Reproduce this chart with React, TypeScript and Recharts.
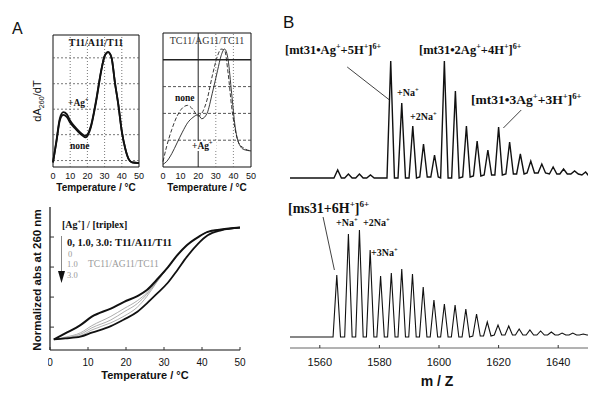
import React from "react";
import { LineChart, Line, XAxis, YAxis, ReferenceLine, ReferenceArea } from "recharts";

const SERIF = '"Liberation Serif", "Times New Roman", serif';
const SANS = '"Liberation Sans", Arial, sans-serif';
const INK = "#111";

// ---- panel A, upper left: dA260/dT of T11/A11/T11 (0..100 = bottom..top of frame)
const dtTempL = [0, 2, 4, 6, 8, 10, 13, 16, 19, 22, 25, 28, 30, 32, 34, 36, 38, 40, 42, 44, 46, 50];
const dtAgL = [3.5, 20, 37, 41.5, 40, 35, 30, 26, 23.6, 31, 50, 73, 84, 87, 83, 64, 47, 27, 14, 6, 3.5, 3];
const dtNoneL = [3.5, 19, 35.5, 39.5, 38, 33.5, 29, 25, 22.5, 30, 49, 72.5, 84, 87, 83, 64, 47, 27, 14, 6, 3.5, 3];
const gridYL = [4.9, 24.5, 43.8, 63.1, 82.7];
const gridXL = [10, 20, 30, 40];

// ---- panel A, upper right: TC11/AG11/TC11
const dtTempR = [0, 2, 5, 8, 11, 14, 17, 20, 22, 25, 28, 31, 33, 35, 37, 39, 41, 43, 46, 50];
const dtNoneR = [4, 15, 28, 38, 44, 46, 43, 38, 40, 50, 68, 83, 88, 87, 70, 45, 28, 18, 14, 12];
const dtAgR = [2, 4, 10, 18, 26, 33, 37, 39, 36, 40, 55, 72, 83, 88, 80, 55, 30, 18, 13, 12];
const gridYR = [20, 40, 60];
const gridYRStrong = [80];
const gridXR = [30, 40];
const gridXRStrong = [20];

// ---- panel A, lower: normalized absorbance at 260 nm
const absTemp = [1, 4, 8, 11, 16, 19.5, 23, 25.5, 28, 31, 33.5, 36, 39, 41.5, 45, 50];
const absUpper = [0.074, 0.116, 0.174, 0.233, 0.29, 0.337, 0.377, 0.419, 0.488, 0.577, 0.663, 0.733, 0.79, 0.826, 0.842, 0.856];
const absLower = [0.074, 0.081, 0.093, 0.121, 0.167, 0.214, 0.267, 0.326, 0.39, 0.47, 0.558, 0.651, 0.744, 0.802, 0.837, 0.856];
const absMid1 = [0.074, 0.09, 0.12, 0.17, 0.235, 0.29, 0.345, 0.4, 0.478, 0.577, 0.663, 0.733, 0.79, 0.826, 0.842, 0.856];
const absMid2 = [0.074, 0.085, 0.11, 0.155, 0.21, 0.267, 0.325, 0.39, 0.475, 0.577, 0.663, 0.733, 0.79, 0.826, 0.842, 0.856];
const absMid3 = [0.074, 0.083, 0.1, 0.14, 0.19, 0.237, 0.3, 0.375, 0.47, 0.577, 0.663, 0.733, 0.79, 0.826, 0.842, 0.856];
const absYTicks = [0.16, 0.37, 0.58, 0.79];
const tempTicks = [0, 10, 20, 30, 40, 50];

// ---- panel B, upper spectrum (mt31 + Ag+): peak centre, apex, background under the peak
const topPeakMz = [1566.0, 1569.6, 1573.3, 1577.0, 1583.8, 1587.5, 1591.2, 1594.8, 1598.5, 1601.8, 1605.5, 1609.2, 1612.8, 1616.4, 1620.0, 1623.7, 1627.3, 1630.8, 1634.5, 1638.3, 1641.8, 1645.5, 1649.2];
const topPeakInt = [8, 4, 4, 3, 117, 75, 52, 34, 23, 117, 87, 52, 37, 28, 51, 36, 24, 17, 14, 11, 9, 7, 6];
const topPeakBase = [0, 0, 0, 0, 0, 0, 0, 1, 1, 0, 0, 1, 2, 3, 3, 4, 4, 5, 5, 4, 4, 4, 3];
const topEndsMz = [1550, 1650];
const topEndsInt = [0, 3];

// ---- panel B, lower spectrum (ms31)
const botPeakMz = [1565.7, 1569.6, 1573.3, 1576.9, 1580.4, 1584.0, 1587.5, 1591.1, 1594.7, 1598.3, 1601.8, 1605.4, 1609.0, 1612.6, 1616.2, 1619.8, 1623.4, 1626.9, 1630.5, 1634.1, 1637.7, 1641.3, 1644.9, 1648.4];
const botPeakInt = [62, 103, 107, 87, 61, 64, 68, 63, 50, 37, 33, 32, 28, 23, 15, 12, 11, 8, 7, 6, 5, 4, 4, 3];
const botPeakBase = [0, 0, 0, 0, 0, 0, 0, 0, 0, 0, 0, 0, 0, 1, 1, 2, 2, 2, 2, 2, 2, 2, 2, 2];
const botEndsMz = [1550, 1650];
const botEndsInt = [0, 2];
const mzTicks = [1560, 1580, 1600, 1620, 1640];
const PEAK_HALF_WIDTH = 1.25; // m/z from apex to foot

// leader lines, in data units
const leaderAg1 = [{ x: 1569.2, y: 111 }, { x: 1583.4, y: 78 }];
const leaderAg3 = [{ x: 1627.6, y: 68 }, { x: 1621.6, y: 50 }];
const leaderMs = [{ x: 1561.1, y: 120 }, { x: 1564.9, y: 67 }];

function spectrumRows(pMz: number[], pInt: number[], pBase: number[], eMz: number[], eInt: number[]) {
  const rows: { mz: number; v: number }[] = eMz.map((mz, i) => ({ mz, v: eInt[i] }));
  pMz.forEach((mz, i) => {
    rows.push({ mz: mz - PEAK_HALF_WIDTH, v: pBase[i] });
    rows.push({ mz, v: pInt[i] });
    rows.push({ mz: mz + PEAK_HALF_WIDTH, v: pBase[i] });
  });
  return rows.sort((a, b) => a.mz - b.mz);
}

const rowsL = dtTempL.map((t, i) => ({ t, ag: dtAgL[i], none: dtNoneL[i] }));
const rowsR = dtTempR.map((t, i) => ({ t, ag: dtAgR[i], none: dtNoneR[i] }));
const absRows = absTemp.map((t, i) => ({
  t,
  up: absUpper[i],
  low: absLower[i],
  m1: absMid1[i],
  m2: absMid2[i],
  m3: absMid3[i],
}));
const topRows = spectrumRows(topPeakMz, topPeakInt, topPeakBase, topEndsMz, topEndsInt);
const botRows = spectrumRows(botPeakMz, botPeakInt, botPeakBase, botEndsMz, botEndsInt);

type Part = string | [string, "sup" | "sub"];

function Rich({
  x,
  y,
  parts,
  size,
  family = SERIF,
  weight = 700,
  fill = INK,
  anchor = "start",
  transform,
}: {
  x: number;
  y: number;
  parts: Part[];
  size: number;
  family?: string;
  weight?: number;
  fill?: string;
  anchor?: "start" | "middle" | "end";
  transform?: string;
}) {
  let shift = 0;
  const spans = parts.map((p, i) => {
    const [t, kind] = typeof p === "string" ? [p, null] : p;
    const target = kind === "sup" ? -size * 0.4 : kind === "sub" ? size * 0.25 : 0;
    const dy = target - shift;
    shift = target;
    return (
      <tspan key={i} dy={dy} fontSize={kind ? size * 0.65 : size}>
        {t}
      </tspan>
    );
  });
  return (
    <text
      x={x}
      y={y}
      fontFamily={family}
      fontWeight={weight}
      fontSize={size}
      fill={fill}
      textAnchor={anchor}
      transform={transform}
    >
      {spans}
    </text>
  );
}

function InTickX(props: any) {
  const { x, y, payload, len, textDy, size } = props;
  return (
    <g>
      <line x1={x} x2={x} y1={y} y2={y - len} stroke="#333" strokeWidth={1} />
      <text x={x} y={y + textDy} textAnchor="middle" fontSize={size} fontFamily={SANS} fill={INK}>
        {payload.value}
      </text>
    </g>
  );
}

function InTickY(props: any) {
  const { x, y } = props;
  return <line x1={x} x2={x + 4} y1={y} y2={y} stroke="#333" strokeWidth={1} />;
}

function DtPanel({
  x,
  y,
  w,
  h,
  rows,
  children,
}: {
  x: number;
  y: number;
  w: number;
  h: number;
  rows: any[];
  children: React.ReactNode;
}) {
  return (
    <div style={{ position: "absolute", left: x - 8, top: y - 2 }}>
      <LineChart width={w + 16} height={h + 24} data={rows} margin={{ top: 2, right: 8, left: 8, bottom: 0 }}>
        <XAxis
          type="number"
          dataKey="t"
          domain={[0, 50]}
          ticks={tempTicks}
          interval={0}
          axisLine={false}
          tickLine={false}
          tickSize={0}
          tickMargin={6}
          height={22}
          tick={{ fontSize: 9, fill: INK, fontFamily: SANS }}
        />
        <YAxis hide domain={[0, 100]} />
        {children}
      </LineChart>
    </div>
  );
}

export default function App() {
  return (
    <div
      style={{
        position: "absolute",
        left: 0,
        top: 0,
        width: 593,
        height: 395,
        background: "#fff",
        overflow: "hidden",
        fontFamily: SANS,
      }}
    >
      {/* upper left: T11/A11/T11 */}
      <DtPanel x={53} y={35} w={86} h={132} rows={rowsL}>
        {gridYL.map((v) => (
          <ReferenceLine key={`y${v}`} y={v} stroke="#555" strokeWidth={0.8} strokeDasharray="2 2" />
        ))}
        {gridXL.map((v) => (
          <ReferenceLine key={`x${v}`} x={v} stroke="#555" strokeWidth={0.8} strokeDasharray="1 2" />
        ))}
        <ReferenceArea x1={0} x2={50} y1={0} y2={100} fill="none" stroke={INK} strokeWidth={1} ifOverflow="visible" />
        <Line dataKey="none" type="monotone" stroke={INK} strokeWidth={1.8} dot={false} isAnimationActive={false} />
        <Line dataKey="ag" type="monotone" stroke={INK} strokeWidth={1.8} dot={false} isAnimationActive={false} />
      </DtPanel>

      {/* upper right: TC11/AG11/TC11 */}
      <DtPanel x={163} y={33} w={88} h={134} rows={rowsR}>
        {gridYR.map((v) => (
          <ReferenceLine key={`y${v}`} y={v} stroke="#444" strokeWidth={0.9} strokeDasharray="3 2" />
        ))}
        {gridYRStrong.map((v) => (
          <ReferenceLine key={`ys${v}`} y={v} stroke="#222" strokeWidth={1.5} />
        ))}
        {gridXR.map((v) => (
          <ReferenceLine key={`x${v}`} x={v} stroke="#666" strokeWidth={0.8} strokeDasharray="1 2" />
        ))}
        {gridXRStrong.map((v) => (
          <ReferenceLine key={`xs${v}`} x={v} stroke="#222" strokeWidth={1} />
        ))}
        <ReferenceArea x1={0} x2={50} y1={0} y2={100} fill="none" stroke={INK} strokeWidth={1} ifOverflow="visible" />
        <Line dataKey="none" type="monotone" stroke="#222" strokeWidth={0.9} strokeDasharray="4 2" dot={false} isAnimationActive={false} />
        <Line dataKey="ag" type="monotone" stroke="#222" strokeWidth={0.9} dot={false} isAnimationActive={false} />
      </DtPanel>

      {/* lower: normalized absorbance */}
      <div style={{ position: "absolute", left: 48, top: 204 }}>
        <LineChart width={202} height={176} data={absRows} margin={{ top: 3, right: 10, left: 0, bottom: 0 }}>
          <XAxis
            type="number"
            dataKey="t"
            domain={[0, 50]}
            ticks={tempTicks}
            interval={0}
            height={30}
            axisLine={{ stroke: INK, strokeWidth: 1.2 }}
            tickLine={false}
            tickSize={0}
            tickMargin={0}
            tick={(p: any) => <InTickX {...p} len={3} textDy={15.5} size={10} />}
          />
          <YAxis
            domain={[0, 1]}
            width={2}
            ticks={absYTicks}
            interval={0}
            axisLine={{ stroke: INK, strokeWidth: 1.2 }}
            tickLine={false}
            tickSize={0}
            tickMargin={0}
            tick={(p: any) => <InTickY {...p} />}
          />
          <Line dataKey="m1" type="monotone" stroke="#999" strokeWidth={0.8} dot={false} isAnimationActive={false} />
          <Line dataKey="m2" type="monotone" stroke="#999" strokeWidth={0.8} dot={false} isAnimationActive={false} />
          <Line dataKey="m3" type="monotone" stroke="#999" strokeWidth={0.8} dot={false} isAnimationActive={false} />
          <Line dataKey="low" type="monotone" stroke={INK} strokeWidth={1.8} dot={false} isAnimationActive={false} />
          <Line dataKey="up" type="monotone" stroke={INK} strokeWidth={2} dot={false} isAnimationActive={false} />
        </LineChart>
      </div>

      {/* panel B upper spectrum */}
      <div style={{ position: "absolute", left: 288, top: 55 }}>
        <LineChart width={303} height={126} data={topRows} margin={{ top: 3, right: 3, left: 2, bottom: 3 }}>
          <XAxis hide type="number" dataKey="mz" domain={[1550, 1650]} allowDataOverflow />
          <YAxis hide domain={[0, 120]} />
          <ReferenceLine segment={leaderAg1} stroke={INK} strokeWidth={0.8} ifOverflow="visible" />
          <ReferenceLine segment={leaderAg3} stroke={INK} strokeWidth={0.8} ifOverflow="visible" />
          <Line dataKey="v" type="linear" stroke={INK} strokeWidth={1.4} dot={false} isAnimationActive={false} />
        </LineChart>
      </div>

      {/* panel B lower spectrum with m/z axis */}
      <div style={{ position: "absolute", left: 288, top: 213 }}>
        <LineChart width={303} height={165} data={botRows} margin={{ top: 3, right: 3, left: 2, bottom: 0 }}>
          <XAxis
            type="number"
            dataKey="mz"
            domain={[1550, 1650]}
            ticks={mzTicks}
            interval={0}
            allowDataOverflow
            height={30}
            axisLine={{ stroke: "#666", strokeWidth: 1 }}
            tickLine={false}
            tickSize={0}
            tickMargin={0}
            tick={(p: any) => <InTickX {...p} len={3} textDy={18} size={11} />}
          />
          <YAxis hide domain={[-11, 121]} />
          <ReferenceLine segment={leaderMs} stroke={INK} strokeWidth={0.8} ifOverflow="visible" />
          <Line dataKey="v" type="linear" stroke={INK} strokeWidth={1.1} dot={false} isAnimationActive={false} />
        </LineChart>
      </div>

      {/* text layer */}
      <svg width={593} height={395} style={{ position: "absolute", left: 0, top: 0, pointerEvents: "none" }}>
        <text x={12} y={34} fontSize={16} fontFamily={SANS} fill={INK}>A</text>
        <text x={283} y={28} fontSize={17} fontFamily={SANS} fill={INK}>B</text>

        <Rich x={96} y={46} parts={["T11/A11/T11"]} size={10} anchor="middle" />
        <Rich x={207} y={44} parts={["TC11/AG11/TC11"]} size={10} weight={400} fill="#333" anchor="middle" />
        <Rich x={0} y={0} parts={["dA", ["260", "sub"], "/dT"]} size={11} family={SANS} weight={400} anchor="middle" transform="translate(41,101) rotate(-90)" />
        <Rich x={68} y={106} parts={["+Ag", ["+", "sup"]]} size={9.5} />
        <Rich x={70} y={149} parts={["none"]} size={9.5} />
        <Rich x={175} y={101} parts={["none"]} size={9.5} />
        <rect x={190} y={141} width={26} height={10} fill="#fff" />
        <Rich x={192} y={149} parts={["+Ag", ["+", "sup"]]} size={9.5} />
        <Rich x={96} y={191} parts={["Temperature / °C"]} size={10} family={SANS} anchor="middle" />
        <Rich x={207} y={191} parts={["Temperature / °C"]} size={10} family={SANS} anchor="middle" />

        <Rich x={62} y={228} parts={["[Ag", ["+", "sup"], "] / [triplex]"]} size={10} />
        <Rich x={67} y={246} parts={["0, 1.0, 3.0: T11/A11/T11"]} size={10.5} />
        <Rich x={68} y={257} parts={["0"]} size={8.5} weight={400} fill="#999" />
        <Rich x={67} y={267} parts={["1.0"]} size={8.5} weight={400} fill="#999" />
        <Rich x={88} y={267} parts={["TC11/AG11/TC11"]} size={9.5} weight={400} fill="#999" />
        <Rich x={67} y={278} parts={["3.0"]} size={8.5} weight={400} fill="#999" />
        <line x1={61.5} x2={61.5} y1={236} y2={273} stroke="#888" strokeWidth={1} />
        <polygon points="58,271 65,271 61.5,283" fill={INK} />
        <Rich x={0} y={0} parts={["Normalized abs at 260 nm"]} size={11.5} family={SANS} anchor="middle" transform="translate(41,280) rotate(-90)" />
        <Rich x={145} y={379} parts={["Temperature / °C"]} size={11} family={SANS} anchor="middle" />

        <Rich x={285} y={54} parts={["[mt31•Ag", ["+", "sup"], "+5H", ["+", "sup"], "]", ["6+", "sup"]]} size={12.5} />
        <Rich x={419} y={54} parts={["[mt31•2Ag", ["+", "sup"], "+4H", ["+", "sup"], "]", ["6+", "sup"]]} size={12.5} />
        <Rich x={471} y={104} parts={["[mt31•3Ag", ["+", "sup"], "+3H", ["+", "sup"], "]", ["6+", "sup"]]} size={13.5} />
        <Rich x={397} y={96} parts={["+Na", ["+", "sup"]]} size={10} />
        <Rich x={410} y={120} parts={["+2Na", ["+", "sup"]]} size={10} />

        <Rich x={288} y={213} parts={["[ms31+6H", ["+", "sup"], "]", ["6+", "sup"]]} size={14} />
        <Rich x={336} y={226} parts={["+Na", ["+", "sup"]]} size={10} />
        <Rich x={363} y={226} parts={["+2Na", ["+", "sup"]]} size={10} />
        <Rich x={371} y={256} parts={["+3Na", ["+", "sup"]]} size={10} />
        <Rich x={437} y={386} parts={["m / Z"]} size={14} family={SANS} anchor="middle" />
      </svg>
    </div>
  );
}
